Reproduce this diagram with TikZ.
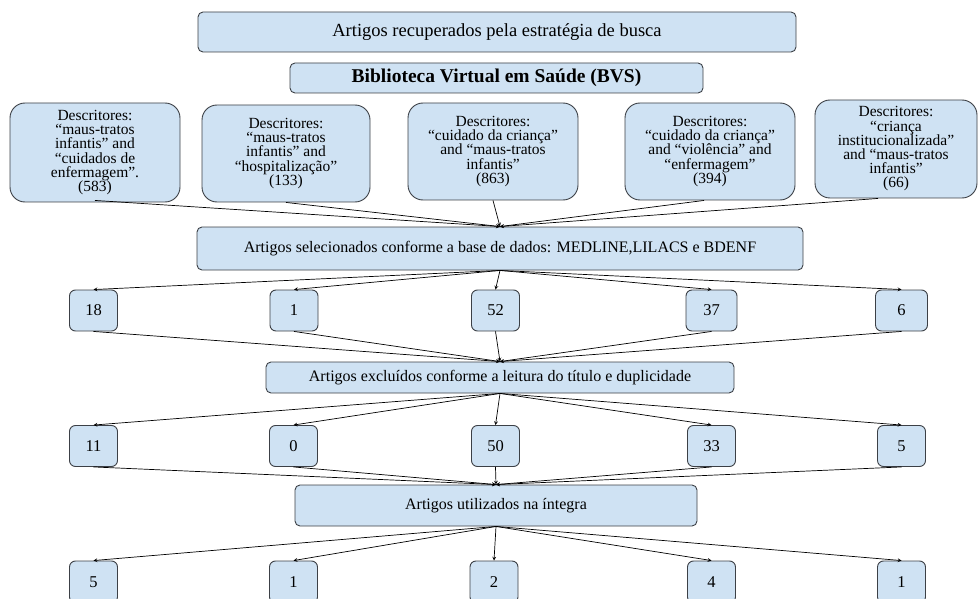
\documentclass[tikz,border=0pt]{standalone}
\usepackage{fontspec}
\setmainfont{Liberation Serif}
\usetikzlibrary{positioning}
\usetikzlibrary{shapes,arrows}
\definecolor{boxFill}{RGB}{207,226,243}
\definecolor{boxBorder}{RGB}{60,64,70}
\tikzset{
    objRectangle/.style={rectangle, rounded corners=5pt, draw=boxBorder, fill=boxFill, line width=0.9pt, inner sep=0pt, text centered, align=center, font=\fontsize{16}{17}\selectfont},
    objRoundRectangle/.style={rectangle, rounded corners=15pt, draw=boxBorder, fill=boxFill, line width=0.9pt, inner sep=0pt, text centered, align=center, minimum height=97pt, font=\fontsize{15.5}{14.2}\selectfont},
    objRectangleNumbers/.style={rectangle, rounded corners=6pt, draw=boxBorder, fill=boxFill, line width=0.9pt, inner sep=0pt, text centered, minimum width=48pt, minimum height=41pt, font=\fontsize{16.5}{17}\selectfont},
    arrow/.style={line width=0.7pt, ->, >=stealth}
}

\begin{document}
\begin{tikzpicture}[x=1pt, y=-1pt]
    \useasboundingbox (0,0) rectangle (978,599);

    \node (001) [objRectangle, minimum width=598pt, minimum height=40pt, font=\fontsize{18.5}{19}\selectfont] at (497,32) {Artigos recuperados pela estratégia de busca};
    \node (002) [objRectangle, minimum width=413pt, minimum height=30pt, font=\fontsize{19.5}{20}\selectfont\bfseries] at (496.5,78) {Biblioteca Virtual em Saúde (BVS)};

    \node (003) [objRoundRectangle, minimum width=170pt, minimum height=99pt] at (95,152.5) {Descritores:\\“maus-tratos\\infantis” and\\“cuidados de\\enfermagem”.\\(583)};
    \node (004) [objRoundRectangle, minimum width=168pt] at (286,153.5) {Descritores:\\“maus-tratos\\infantis” and\\“hospitalização”\\(133)};
    \node (005) [objRoundRectangle, minimum width=170pt] at (493,151.5) {Descritores:\\“cuidado da criança”\\and “maus-tratos\\infantis”\\(863)};
    \node (006) [objRoundRectangle, minimum width=170pt] at (710,151.5) {Descritores:\\“cuidado da criança”\\and “violência” and\\“enfermagem”\\(394)};
    \node (007) [objRoundRectangle, minimum width=162pt, minimum height=98pt] at (896,149) {Descritores:\\“criança\\institucionalizada”\\and “maus-tratos\\infantis”\\(66)};

    \node (008) [objRectangle, minimum width=606pt, minimum height=43pt] at (500,248.5) {Artigos selecionados conforme a base de dados: MEDLINE,LILACS e BDENF};

    \node (009) [objRectangleNumbers] at (93.5,310.5) {18};
    \node (010) [objRectangleNumbers] at (294,310.5) {1};
    \node (011) [objRectangleNumbers] at (495.5,310.5) {52};
    \node (012) [objRectangleNumbers, minimum width=51pt] at (711.5,310.5) {37};
    \node (013) [objRectangleNumbers, minimum width=52pt] at (901.5,310.5) {6};

    \node (014) [objRectangle, minimum width=468pt, minimum height=31pt] at (500,377.5) {Artigos excluídos conforme a leitura do título e duplicidade};

    \node (015) [objRectangleNumbers] at (93.5,446) {11};
    \node (016) [objRectangleNumbers] at (293.5,446) {0};
    \node (017) [objRectangleNumbers] at (495.5,446) {50};
    \node (018) [objRectangleNumbers] at (711.5,446) {33};
    \node (019) [objRectangleNumbers] at (901.5,446) {5};

    \node (020) [objRectangle, minimum width=402pt, minimum height=41pt] at (496,505.5) {Artigos utilizados na íntegra};

    \node (021) [objRectangleNumbers, minimum height=42pt] at (93.5,582) {5};
    \node (022) [objRectangleNumbers, minimum height=42pt] at (293.5,582) {1};
    \node (023) [objRectangleNumbers, minimum height=42pt] at (494,582) {2};
    \node (024) [objRectangleNumbers, minimum height=42pt] at (711.5,582) {4};
    \node (025) [objRectangleNumbers, minimum height=42pt] at (901.5,582) {1};

    \draw [arrow] ([yshift=2pt]003.south) -- (008.north);
    \draw [arrow] (004.south) -- (008.north);
    \draw [arrow] (005.south) -- (008.north);
    \draw [arrow] ([xshift=-6pt]006.south) -- (008.north);
    \draw [arrow] ([xshift=-18pt]007.south) -- (008.north);

    \draw [arrow] (008.south) -- (009.north);
    \draw [arrow] (008.south) -- (010.north);
    \draw [arrow] (008.south) -- (011.north);
    \draw [arrow] (008.south) -- (012.north);
    \draw [arrow] (008.south) -- (013.north);

    \draw [arrow] (009.south) -- (014.north);
    \draw [arrow] (010.south) -- (014.north);
    \draw [arrow] (011.south) -- (014.north);
    \draw [arrow] (012.south) -- (014.north);
    \draw [arrow] (013.south) -- (014.north);

    \draw [arrow] (014.south) -- (015.north);
    \draw [arrow] (014.south) -- (016.north);
    \draw [arrow] (014.south) -- (017.north);
    \draw [arrow] (014.south) -- (018.north);
    \draw [arrow] (014.south) -- (019.north);

    \draw [arrow] (015.south) -- (020.north);
    \draw [arrow] (016.south) -- (020.north);
    \draw [arrow] (017.south) -- (020.north);
    \draw [arrow] (018.south) -- (020.north);
    \draw [arrow] (019.south) -- (020.north);

    \draw [arrow] (020.south) -- (021.north);
    \draw [arrow] (020.south) -- (022.north);
    \draw [arrow] (020.south) -- (023.north);
    \draw [arrow] (020.south) -- (024.north);
    \draw [arrow] (020.south) -- (025.north);

\end{tikzpicture}
\end{document}
